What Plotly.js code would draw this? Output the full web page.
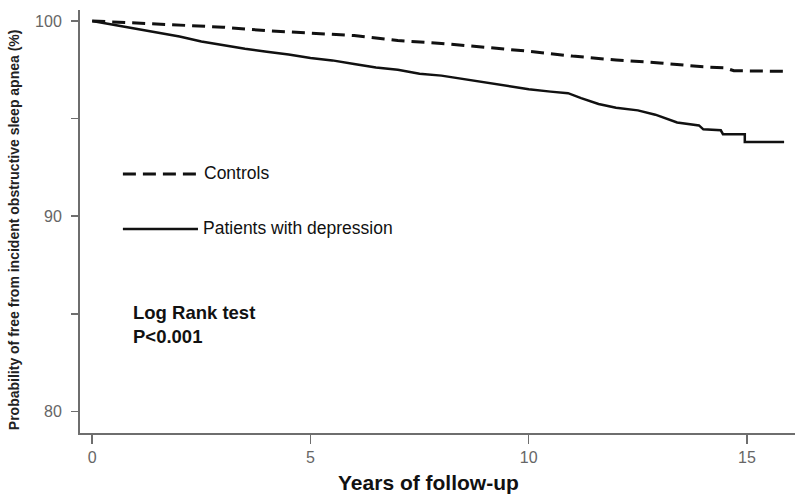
<!DOCTYPE html>
<html><head><meta charset="utf-8">
<script src="https://cdn.plot.ly/plotly-3.0.1.min.js"></script>
<style>html,body{margin:0;padding:0;background:#fff}#chart{width:800px;height:498px}</style>
</head><body><div id="chart"></div>
<script>
const controlsYears = [0,1,2,3,4,5,6,7,8,9,10,11,12,13,14,14.5,14.7,15.85];
const controlsSurv  = [100,99.9,99.8,99.68,99.5,99.38,99.25,99.0,98.85,98.65,98.45,98.2,98.0,97.85,97.65,97.6,97.45,97.42];
const patientYears = [0,0.5,1,1.5,2,2.5,3,3.5,4,4.5,5,5.5,6,6.5,7,7.5,8,8.5,9,9.5,10,10.5,10.9,11.2,11.6,12,12.5,12.9,13.4,13.9,14,14.4,14.45,14.95,14.95,15.85];
const patientSurv  = [100,99.8,99.58,99.38,99.2,98.95,98.75,98.58,98.42,98.28,98.1,97.98,97.8,97.62,97.5,97.3,97.2,97.02,96.85,96.65,96.5,96.38,96.3,96.05,95.75,95.55,95.42,95.2,94.8,94.65,94.45,94.4,94.2,94.2,93.8,93.8];
const xTicks = [0,5,10,15];
const yTicks = [80,85,90,95,100];
const yTickText = ['80','','90','','100'];
const seriesNames = ['Controls','Patients with depression'];

const axisColor = '#6e6e6e';
const font = 'Arial, "Liberation Sans", sans-serif';

const traces = [
  {x: controlsYears, y: controlsSurv, name: seriesNames[0], mode: 'lines',
   line: {color: '#111', width: 3, dash: '13px,7px'}},
  {x: patientYears, y: patientSurv, name: seriesNames[1], mode: 'lines',
   line: {color: '#111', width: 2.5}}
];

const layout = {
  width: 800, height: 498,
  margin: {l: 80, r: 5, t: 10, b: 65},
  paper_bgcolor: '#fff', plot_bgcolor: '#fff',
  showlegend: false,
  font: {family: font, color: '#222'},
  xaxis: {
    range: [-0.28, 16.1], tickvals: xTicks, ticktext: xTicks.map(String),
    showgrid: false, zeroline: false, showline: true, linecolor: axisColor, linewidth: 2,
    ticks: 'outside', ticklen: 9, tickwidth: 1.5, tickcolor: axisColor,
    tickfont: {family: font, size: 16, color: '#666'}
  },
  yaxis: {
    range: [78.9, 100.56], tickvals: yTicks, ticktext: yTickText,
    showgrid: false, zeroline: false, showline: true, linecolor: axisColor, linewidth: 2,
    ticks: 'outside', ticklen: 7, tickwidth: 1.5, tickcolor: axisColor,
    tickfont: {family: font, size: 16, color: '#666'}, ticklabelstandoff: 6
  },
  shapes: [
    {type: 'line', xref: 'paper', yref: 'paper', x0: 0.060, x1: 0.168, y0: 0.612, y1: 0.612,
     line: {color: '#111', width: 3, dash: '13px,7px'}},
    {type: 'line', xref: 'paper', yref: 'paper', x0: 0.060, x1: 0.165, y0: 0.482, y1: 0.482,
     line: {color: '#111', width: 2.5}}
  ],
  annotations: [
    {xref: 'paper', yref: 'paper', x: 0.170, y: 0.615, xanchor: 'left', yanchor: 'middle', showarrow: false,
     text: seriesNames[0], font: {family: font, size: 17.5, color: '#111'}},
    {xref: 'paper', yref: 'paper', x: 0.169, y: 0.485, xanchor: 'left', yanchor: 'middle', showarrow: false,
     text: seriesNames[1], font: {family: font, size: 17.5, color: '#111'}},
    {xref: 'paper', yref: 'paper', x: 0.072, y: 0.284, xanchor: 'left', yanchor: 'middle', showarrow: false,
     text: '<b>Log Rank test</b>', font: {family: font, size: 18.5, color: '#111'}},
    {xref: 'paper', yref: 'paper', x: 0.072, y: 0.229, xanchor: 'left', yanchor: 'middle', showarrow: false,
     text: '<b>P<0.001</b>', font: {family: font, size: 18.5, color: '#111'}},
    {xref: 'paper', yref: 'paper', x: 0.488, y: -0.118, xanchor: 'center', yanchor: 'middle', showarrow: false,
     text: '<b>Years of follow-up</b>', font: {family: font, size: 21, color: '#111'}},
    {xref: 'paper', yref: 'paper', x: -0.092, y: 0.48, xanchor: 'center', yanchor: 'middle', showarrow: false,
     textangle: -90, text: '<b>Probability of free from incident obstructive sleep apnea (%)</b>',
     font: {family: font, size: 14, color: '#222'}}
  ]
};

Plotly.newPlot('chart', traces, layout, {staticPlot: true, displayModeBar: false});
</script></body></html>
